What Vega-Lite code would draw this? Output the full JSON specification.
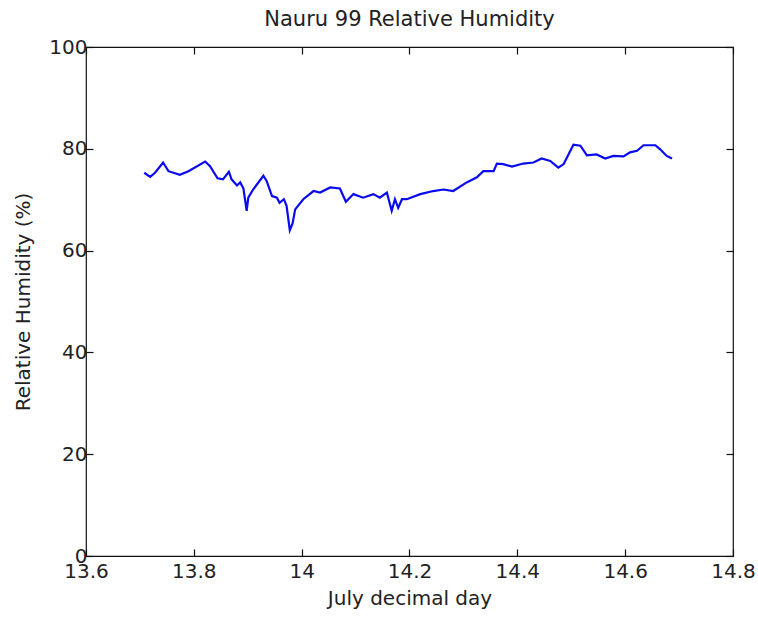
{
  "$schema": "https://vega.github.io/schema/vega-lite/v6.json",
  "autosize": {"type": "none"},
  "width": 647,
  "height": 509,
  "padding": {"left": 86, "top": 47, "right": 25, "bottom": 64},
  "background": "white",
  "title": {
    "text": "Nauru 99 Relative Humidity",
    "font": "DejaVu Sans",
    "fontSize": 21,
    "fontWeight": "normal",
    "color": "#222222",
    "anchor": "middle",
    "offset": 7
  },
  "config": {
    "view": {"stroke": "#111111", "strokeWidth": 1.2},
    "axis": {
      "grid": false,
      "domain": false,
      "tickColor": "#111111",
      "tickSize": -7,
      "tickWidth": 1.2,
      "labelFont": "DejaVu Sans",
      "labelFontSize": 20,
      "labelColor": "#222222",
      "labelFlush": false,
      "labelOverlap": false,
      "titleFont": "DejaVu Sans",
      "titleFontSize": 20,
      "titleFontWeight": "normal",
      "titleColor": "#222222"
    }
  },
  "data": {
    "values": [
      {"day": 13.708, "rh": 75.3},
      {"day": 13.719, "rh": 74.5},
      {"day": 13.728, "rh": 75.3},
      {"day": 13.743, "rh": 77.3},
      {"day": 13.753, "rh": 75.6},
      {"day": 13.774, "rh": 74.9},
      {"day": 13.790, "rh": 75.6},
      {"day": 13.821, "rh": 77.5},
      {"day": 13.830, "rh": 76.6},
      {"day": 13.844, "rh": 74.2},
      {"day": 13.854, "rh": 74.0},
      {"day": 13.865, "rh": 75.5},
      {"day": 13.870, "rh": 74.0},
      {"day": 13.880, "rh": 72.8},
      {"day": 13.886, "rh": 73.4},
      {"day": 13.892, "rh": 72.2},
      {"day": 13.898, "rh": 67.8},
      {"day": 13.901, "rh": 70.4},
      {"day": 13.910, "rh": 72.0},
      {"day": 13.929, "rh": 74.7},
      {"day": 13.935, "rh": 73.7},
      {"day": 13.945, "rh": 70.7},
      {"day": 13.954, "rh": 70.4},
      {"day": 13.959, "rh": 69.4},
      {"day": 13.967, "rh": 70.1},
      {"day": 13.972, "rh": 68.8},
      {"day": 13.978, "rh": 64.0},
      {"day": 13.983, "rh": 65.3},
      {"day": 13.988, "rh": 68.1},
      {"day": 14.003, "rh": 70.1},
      {"day": 14.022, "rh": 71.7},
      {"day": 14.034, "rh": 71.4},
      {"day": 14.053, "rh": 72.4},
      {"day": 14.071, "rh": 72.2},
      {"day": 14.082, "rh": 69.6},
      {"day": 14.096, "rh": 71.1},
      {"day": 14.114, "rh": 70.4},
      {"day": 14.133, "rh": 71.1},
      {"day": 14.145, "rh": 70.4},
      {"day": 14.158, "rh": 71.4},
      {"day": 14.167, "rh": 67.8},
      {"day": 14.173, "rh": 70.1},
      {"day": 14.179, "rh": 68.4},
      {"day": 14.186, "rh": 70.1},
      {"day": 14.195, "rh": 70.1},
      {"day": 14.220, "rh": 71.1},
      {"day": 14.244, "rh": 71.7},
      {"day": 14.263, "rh": 72.0},
      {"day": 14.281, "rh": 71.7},
      {"day": 14.306, "rh": 73.4},
      {"day": 14.325, "rh": 74.4},
      {"day": 14.337, "rh": 75.6},
      {"day": 14.356, "rh": 75.6},
      {"day": 14.362, "rh": 77.1},
      {"day": 14.374, "rh": 77.0},
      {"day": 14.390, "rh": 76.5},
      {"day": 14.411, "rh": 77.1},
      {"day": 14.430, "rh": 77.3},
      {"day": 14.445, "rh": 78.1},
      {"day": 14.461, "rh": 77.6},
      {"day": 14.476, "rh": 76.3},
      {"day": 14.486, "rh": 77.0},
      {"day": 14.504, "rh": 80.8},
      {"day": 14.517, "rh": 80.6},
      {"day": 14.529, "rh": 78.7},
      {"day": 14.547, "rh": 78.9},
      {"day": 14.563, "rh": 78.1},
      {"day": 14.578, "rh": 78.6},
      {"day": 14.597, "rh": 78.5},
      {"day": 14.609, "rh": 79.3},
      {"day": 14.622, "rh": 79.6},
      {"day": 14.634, "rh": 80.7},
      {"day": 14.656, "rh": 80.7},
      {"day": 14.665, "rh": 79.9},
      {"day": 14.677, "rh": 78.6},
      {"day": 14.687, "rh": 78.1}
    ]
  },
  "layer": [
    {
      "mark": {"type": "line", "color": "#0a0af0", "strokeWidth": 2.2, "interpolate": "linear"},
      "encoding": {
        "x": {
          "field": "day",
          "type": "quantitative",
          "scale": {"domain": [13.6, 14.8], "nice": false, "zero": false},
          "axis": {
            "orient": "bottom",
            "values": [13.6, 13.8, 14, 14.2, 14.4, 14.6, 14.8],
            "format": "~g",
            "labelPadding": 12,
            "title": "July decimal day",
            "titlePadding": 7
          }
        },
        "y": {
          "field": "rh",
          "type": "quantitative",
          "scale": {"domain": [0, 100], "nice": false},
          "axis": {
            "orient": "left",
            "values": [0, 20, 40, 60, 80, 100],
            "labelPadding": 6,
            "title": "Relative Humidity (%)",
            "titlePadding": 15
          }
        }
      }
    },
    {
      "mark": {"type": "line", "opacity": 0},
      "encoding": {
        "x": {
          "field": "day",
          "type": "quantitative",
          "scale": {"domain": [13.6, 14.8], "nice": false, "zero": false},
          "axis": {
            "orient": "top",
            "values": [13.6, 13.8, 14, 14.2, 14.4, 14.6, 14.8],
            "labels": false,
            "title": null
          }
        },
        "y": {
          "field": "rh",
          "type": "quantitative",
          "scale": {"domain": [0, 100], "nice": false},
          "axis": {
            "orient": "right",
            "values": [0, 20, 40, 60, 80, 100],
            "labels": false,
            "title": null
          }
        }
      }
    }
  ],
  "resolve": {"axis": {"x": "independent", "y": "independent"}}
}
